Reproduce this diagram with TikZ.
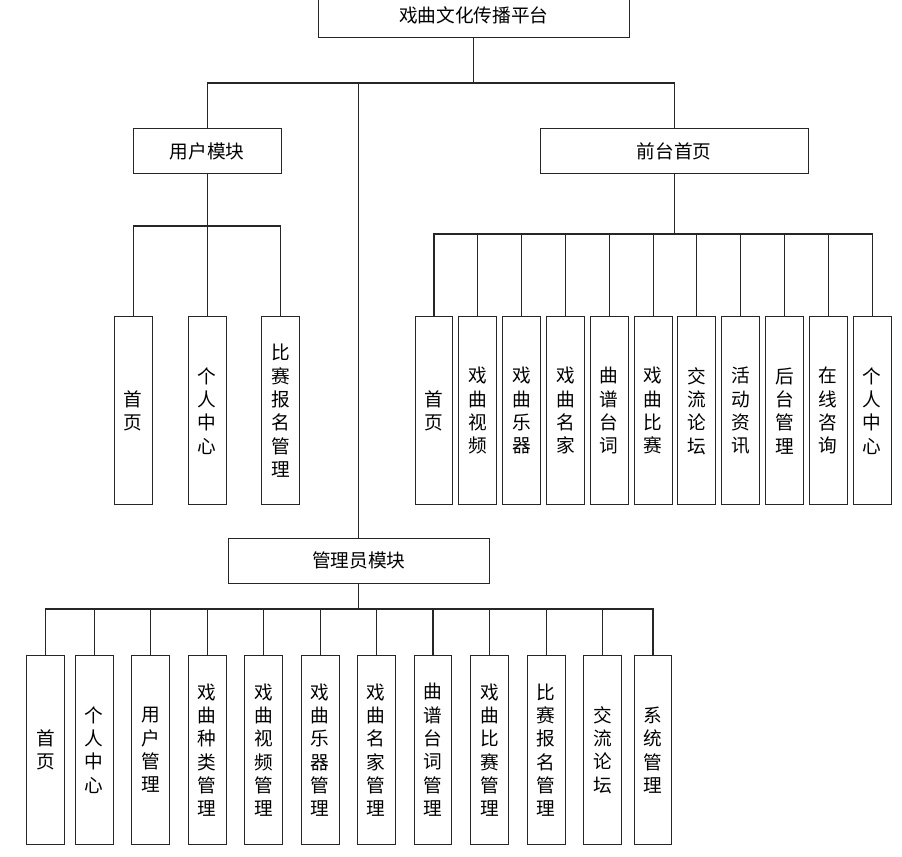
\documentclass[tikz,border=0pt]{standalone}
\usepackage{fontspec}
\newfontfamily\cjk{Noto Sans CJK SC}
\begin{document}
\begin{tikzpicture}[x=0.75pt,y=-0.75pt,
  box/.style={draw=black!85,line width=0.8pt,rectangle,inner sep=0pt,align=center,
    font=\cjk\fontsize{14}{17.5}\selectfont},
  modbox/.style={box,minimum height=34pt},
  leaf/.style={box,minimum width=28.3pt,minimum height=141.2pt},
  link/.style={draw=black!85,line width=0.8pt}]
\useasboundingbox (0,0) rectangle (902,856);
% root and modules
\node[modbox,minimum width=233.3pt] (root) at (473.8,15.1) {戏曲文化传播平台};
\node[modbox,minimum width=110.8pt] (user) at (207.2,151) {用户模块};
\node[modbox,minimum width=201pt] (front) at (674.3,151) {前台首页};
\node[modbox,minimum width=196pt] (admin) at (358.8,560.8) {管理员模块};
% bus levels
\coordinate (b1) at (0,83);
\coordinate (b2) at (0,226);
\coordinate (b3) at (0,234);
\coordinate (b4) at (0,609);
% user leaves
\node[leaf] (u1) at (133.3,410.8) {首\\页};
\node[leaf] (u2) at (207.2,410.8) {个\\人\\中\\心};
\node[leaf] (u3) at (280.8,410.8) {比\\赛\\报\\名\\管\\理};
% front leaves
\node[leaf] (f1) at (434,410.8) {首\\页};
\node[leaf] (f2) at (477.8,410.8) {戏\\曲\\视\\频};
\node[leaf] (f3) at (521.5,410.8) {戏\\曲\\乐\\器};
\node[leaf] (f4) at (565.5,410.8) {戏\\曲\\名\\家};
\node[leaf] (f5) at (609.3,410.8) {曲\\谱\\台\\词};
\node[leaf] (f6) at (653.3,410.8) {戏\\曲\\比\\赛};
\node[leaf] (f7) at (696.8,410.8) {交\\流\\论\\坛};
\node[leaf] (f8) at (740.8,410.8) {活\\动\\资\\讯};
\node[leaf] (f9) at (784.5,410.8) {后\\台\\管\\理};
\node[leaf] (f10) at (828.3,410.8) {在\\线\\咨\\询};
\node[leaf] (f11) at (872.3,410.8) {个\\人\\中\\心};
% admin leaves
\node[leaf] (a1) at (45.5,750) {首\\页};
\node[leaf] (a2) at (94.2,750) {个\\人\\中\\心};
\node[leaf] (a3) at (150.5,750) {用\\户\\管\\理};
\node[leaf] (a4) at (207.2,750) {戏\\曲\\种\\类\\管\\理};
\node[leaf] (a5) at (263.5,750) {戏\\曲\\视\\频\\管\\理};
\node[leaf] (a6) at (320.2,750) {戏\\曲\\乐\\器\\管\\理};
\node[leaf] (a7) at (376.3,750) {戏\\曲\\名\\家\\管\\理};
\node[leaf] (a8) at (433,750) {曲\\谱\\台\\词\\管\\理};
\node[leaf] (a9) at (489.5,750) {戏\\曲\\比\\赛\\管\\理};
\node[leaf] (a10) at (546.2,750) {比\\赛\\报\\名\\管\\理};
\node[leaf] (a11) at (602.7,750) {交\\流\\论\\坛};
\node[leaf] (a12) at (653,750) {系\\统\\管\\理};
% connectors: root
\draw[link] (root.south) -- (root.south |- b1);
\draw[link] (user.north) |- (front.north |- b1) -- (front.north);
\draw[link] (admin.north) -- (admin.north |- b1);
% user
\draw[link] (user.south) -- (user.south |- b2);
\draw[link] (u1.north) |- (u3.north |- b2) -- (u3.north);
\draw[link] (u2.north) -- (u2.north |- b2);
% front
\draw[link] (front.south) -- (front.south |- b3);
\draw[link] (f1.north) |- (f11.north |- b3) -- (f11.north);
\foreach \i in {2,...,10} {\draw[link] (f\i.north) -- (f\i.north |- b3);}
% admin
\draw[link] (admin.south) -- (admin.south |- b4);
\draw[link] (a1.north) |- (a12.north |- b4) -- (a12.north);
\foreach \i in {2,...,11} {\draw[link] (a\i.north) -- (a\i.north |- b4);}
\end{tikzpicture}
\end{document}
